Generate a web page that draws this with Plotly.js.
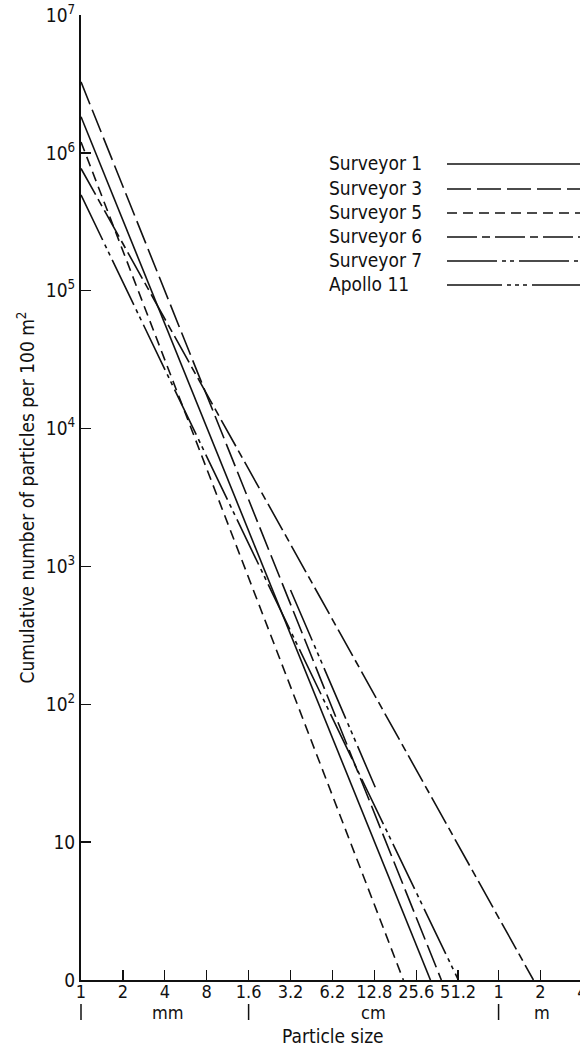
<!DOCTYPE html>
<html><head><meta charset="utf-8">
<script src="https://cdn.plot.ly/plotly-3.0.1.min.js"></script>
<style>html,body{margin:0;padding:0;overflow:hidden;background:#fff}#chart{width:600px;height:1050px}</style>
</head><body><div id="chart"></div>
<script>
// ---- data ----
const seriesNames = ["Surveyor 1", "Surveyor 3", "Surveyor 5", "Surveyor 6", "Surveyor 7", "Apollo 11"];
const sizeStartMm = [1, 1, 1, 1, 1, 32];
const sizeEndMm   = [324, 388, 207, 1780, 514, 130];
const countStart  = [1.83e6, 3.27e6, 1.2e6, 7.7e5, 4.95e5, 675];
const countEnd    = [1, 1, 1, 1, 1, 25];
const xTickVals = [1, 2, 4, 8, 16, 32, 64, 128, 256, 512, 1000, 2000, 4000];
const xTickText = ["1", "2", "4", "8", "1.6", "3.2", "6.2", "12.8", "25.6", "51.2", "1", "2", "4"];
const yTickVals = [1, 10, 100, 1e3, 1e4, 1e5, 1e6, 1e7];
const yTickText = ["0", "10", "10<sup>2</sup>", "10<sup>3</sup>", "10<sup>4</sup>", "10<sup>5</sup>", "10<sup>6</sup>", "10<sup>7</sup>"];
const unitNames = ["mm", "cm", "m"];
const unitCentersMm = [4.2, 126, 2065];
const unitBreaksMm = [1, 16, 1000];

// ---- styles ----
const FONT = "Liberation Sans Narrow, DejaVu Sans Condensed, Arial Narrow, Liberation Sans, sans-serif";
const dashes = ["solid", "24px,6px", "10px,6px", "30px,5px,8px,5px",
  "50px,5px,4px,4px,4px,5px", "55px,5px,4px,4px,4px,4px,4px,5px"];
const X_MAX = 3.7287;           // log10 mm at right edge of plot
const PL = 81, PW = 519, PT = 15, PH = 965;
const px2paperX = p => (p - PL) / PW;
const py2paperY = p => (PT + PH - p) / PH;
const logPaper = v => Math.log10(v) / X_MAX;

const traces = seriesNames.map((n, i) => ({
  type: "scatter", mode: "lines", name: n, showlegend: false,
  x: [sizeStartMm[i], sizeEndMm[i]], y: [countStart[i], countEnd[i]],
  line: {color: "#111", width: 1.6, dash: dashes[i]}
}));

const legendRowsY = [164, 189, 213, 237, 261, 285];
const shapes = [], annotations = [];
seriesNames.forEach((n, i) => {
  annotations.push({xref: "paper", yref: "paper", x: px2paperX(327), y: py2paperY(legendRowsY[i] - 1),
    xanchor: "left", yanchor: "middle", showarrow: false, text: n, font: {family: FONT, size: 19, color: "#111"}});
  shapes.push({type: "line", xref: "paper", yref: "paper", x0: px2paperX(447), x1: 1.05,
    y0: py2paperY(legendRowsY[i]), y1: py2paperY(legendRowsY[i]),
    line: {color: "#111", width: 1.6, dash: dashes[i]}});
});
unitNames.forEach((u, i) => {
  annotations.push({xref: "paper", yref: "paper", x: logPaper(unitCentersMm[i]), y: py2paperY(1012),
    xanchor: "center", yanchor: "middle", showarrow: false, text: u, font: {family: FONT, size: 18, color: "#111"}});
});
unitBreaksMm.forEach(b => {
  shapes.push({type: "line", xref: "paper", yref: "paper", x0: logPaper(b), x1: logPaper(b),
    y0: py2paperY(1004), y1: py2paperY(1020), line: {color: "#111", width: 1.5}});
});
annotations.push({xref: "paper", yref: "paper", x: px2paperX(333), y: py2paperY(1036),
  xanchor: "center", yanchor: "middle", showarrow: false, text: "Particle size",
  font: {family: FONT, size: 19, color: "#111"}});

const layout = {
  width: 600, height: 1050,
  margin: {l: PL, r: 0, t: PT, b: 1050 - PT - PH},
  paper_bgcolor: "#fff", plot_bgcolor: "#fff",
  font: {family: FONT, size: 19, color: "#111"},
  showlegend: false,
  xaxis: {type: "log", range: [0, X_MAX], tickvals: xTickVals, ticktext: xTickText,
    ticks: "inside", ticklen: 10, tickwidth: 1.3, tickcolor: "#111",
    showline: true, linecolor: "#111", linewidth: 1.8, showgrid: false, zeroline: false,
    ticklabelstandoff: -5,
    tickfont: {family: FONT, size: 18, color: "#111"}, tickangle: 0, automargin: false},
  yaxis: {type: "log", range: [0, 7], tickvals: yTickVals, ticktext: yTickText,
    ticks: "inside", ticklen: 10, tickwidth: 1.3, tickcolor: "#111",
    showline: true, linecolor: "#111", linewidth: 2, showgrid: false, zeroline: false,
    tickfont: {family: FONT, size: 19, color: "#111"}, automargin: false,
    title: {text: "Cumulative number of particles per 100 m<sup>2</sup>", standoff: 6,
      font: {family: FONT, size: 19, color: "#111"}}},
  shapes: shapes, annotations: annotations
};
Plotly.newPlot("chart", traces, layout, {staticPlot: true, displayModeBar: false});
</script></body></html>
